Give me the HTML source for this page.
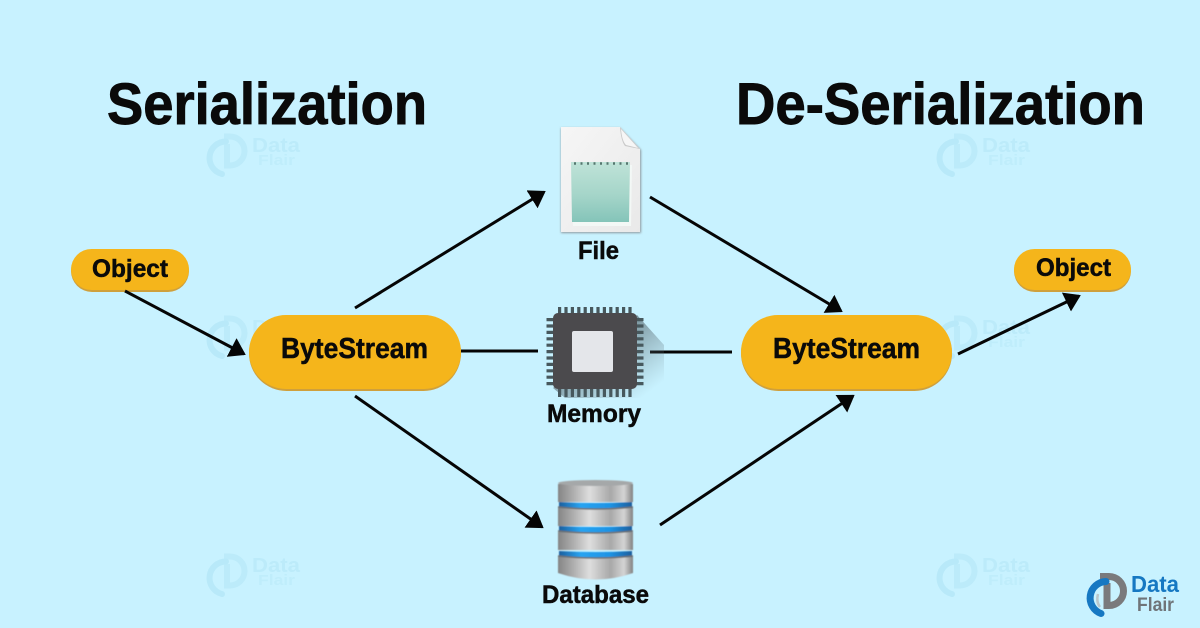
<!DOCTYPE html>
<html><head><meta charset="utf-8"><style>
html,body{margin:0;padding:0;background:#c8f2ff}
svg{display:block}
text{font-family:"Liberation Sans",sans-serif;font-weight:bold;fill:#0a0a0a}
.l{stroke:#0a0a0a;stroke-width:.5px}
.t{stroke:#0a0a0a;stroke-width:.9px}
</style></head><body>
<svg width="1200" height="628" viewBox="0 0 1200 628" xmlns="http://www.w3.org/2000/svg">
<defs>
<marker id="a" viewBox="0 0 16 21" refX="14" refY="10.500" markerWidth="16" markerHeight="21" markerUnits="userSpaceOnUse" orient="auto"><path d="M0 0L16 10.500L0 21Z" fill="#050505"/></marker>
<linearGradient id="page" x1="0" y1="0" x2="1" y2="1"><stop offset="0" stop-color="#f6f6f6"/><stop offset="1" stop-color="#e9e9e9"/></linearGradient>
<linearGradient id="note" x1="0" y1="0" x2="0" y2="1"><stop offset="0" stop-color="#bfe3d8"/><stop offset=".55" stop-color="#a5d5c9"/><stop offset="1" stop-color="#84c4b9"/></linearGradient>
<linearGradient id="metal" x1="0" y1="0" x2="1" y2="0"><stop offset="0" stop-color="#858585"/><stop offset=".2" stop-color="#adadad"/><stop offset=".42" stop-color="#dedede"/><stop offset=".7" stop-color="#a8a8a8"/><stop offset=".88" stop-color="#d4d4d4"/><stop offset="1" stop-color="#828282"/></linearGradient>
<linearGradient id="blue" x1="0" y1="0" x2="1" y2="0"><stop offset="0" stop-color="#1c5f9e"/><stop offset=".3" stop-color="#27a4f2"/><stop offset=".7" stop-color="#1e93e4"/><stop offset="1" stop-color="#1c5f9e"/></linearGradient>
<linearGradient id="shadow" x1="0" y1="0" x2="1" y2="1"><stop offset=".3" stop-color="#3d4a50" stop-opacity=".7"/><stop offset=".9" stop-color="#6a7f88" stop-opacity="0"/></linearGradient>
<filter id="blur" x="-10%" y="-10%" width="120%" height="120%"><feGaussianBlur stdDeviation="1"/></filter>
<filter id="soft" x="-10%" y="-10%" width="120%" height="120%"><feGaussianBlur stdDeviation=".5"/></filter>
<g id="wm">
<path d="M17 3.500H23A14.500 14.500 0 0 1 23 32.500H20V11" fill="none" stroke="#bcebfa" stroke-width="6"/>
<path d="M19 8.500A16.500 16.500 0 0 0 15 41" fill="none" stroke="#b8e9f9" stroke-width="6" stroke-linecap="round"/>
<text x="45" y="19" font-size="20" style="fill:#bcebfa" textLength="48" lengthAdjust="spacingAndGlyphs">Data</text>
<text x="51" y="32" font-size="15" style="fill:#bfedfb" textLength="37" lengthAdjust="spacingAndGlyphs">Flair</text>
</g>
</defs>
<rect width="1200" height="628" fill="#c8f2ff"/>

<use href="#wm" x="207" y="133"/><use href="#wm" x="937" y="133"/>
<use href="#wm" x="207" y="315"/><use href="#wm" x="937" y="315"/>
<use href="#wm" x="207" y="553"/><use href="#wm" x="937" y="553"/>

<text class="t" x="107" y="124" font-size="58" textLength="320" lengthAdjust="spacingAndGlyphs">Serialization</text>
<text class="t" x="736" y="124" font-size="58" textLength="409" lengthAdjust="spacingAndGlyphs">De-Serialization</text>

<!-- pills -->
<g fill="#f5b51b">
<rect x="71" y="250" width="118" height="42" rx="21" fill="#cfa03c"/>
<rect x="71" y="249" width="118" height="41" rx="20.500"/>
<rect x="249" y="316" width="212" height="75" rx="37.500" fill="#cfa03c"/>
<rect x="249" y="315" width="212" height="74" rx="37"/>
<rect x="741" y="316" width="211" height="75" rx="37.500" fill="#cfa03c"/>
<rect x="741" y="315" width="211" height="74" rx="37"/>
<rect x="1014" y="250" width="117" height="42" rx="21" fill="#cfa03c"/>
<rect x="1014" y="249" width="117" height="41" rx="20.500"/>
</g>
<text class="l" x="92" y="277" font-size="25" textLength="76" lengthAdjust="spacingAndGlyphs">Object</text>
<text class="l" x="1036" y="276" font-size="25" textLength="75" lengthAdjust="spacingAndGlyphs">Object</text>
<text class="l" x="281" y="358" font-size="29" textLength="147" lengthAdjust="spacingAndGlyphs">ByteStream</text>
<text class="l" x="773" y="358" font-size="29" textLength="147" lengthAdjust="spacingAndGlyphs">ByteStream</text>

<!-- connectors -->
<g stroke="#050505" stroke-width="3" fill="none">
<line x1="125" y1="291" x2="244" y2="354" marker-end="url(#a)"/>
<line x1="355" y1="308" x2="544" y2="192" marker-end="url(#a)"/>
<line x1="355" y1="396" x2="542" y2="527" marker-end="url(#a)"/>
<line x1="650" y1="197" x2="841" y2="311" marker-end="url(#a)"/>
<line x1="660" y1="525" x2="853" y2="396" marker-end="url(#a)"/>
<line x1="958" y1="354" x2="1079" y2="296" marker-end="url(#a)"/>
<line x1="461" y1="351" x2="538" y2="351"/>
<line x1="650" y1="352" x2="732" y2="352"/>
</g>

<!-- file -->
<path d="M561 128H620L641 150V233H561Z" fill="#8e9a9e" filter="url(#blur)"/>
<path d="M561 127H620L640 149V232H561Z" fill="url(#page)"/>
<path d="M620 127L640 149L625 146Q621 141 620 127Z" fill="#c9c9c9"/>
<path d="M621 129L638 148L626 145Q622 141 621 129Z" fill="#f6f6f6"/>
<path d="M572 165H632L631 226H573Z" fill="#f3f8f6"/>
<path d="M571 162H630L629 222H572Z" fill="url(#note)"/>
<line x1="574" y1="163.500" x2="628" y2="163.500" stroke="#55766e" stroke-width="2.500" stroke-dasharray="2 4.500"/>
<text class="l" x="578" y="259" font-size="25" textLength="41" lengthAdjust="spacingAndGlyphs">File</text>

<!-- chip -->
<path d="M637 315L664 345V380L652 398H565L553 388Z" fill="url(#shadow)"/>
<g stroke="#47585d" fill="none">
<line x1="558" y1="311" x2="632" y2="311" stroke-width="8" stroke-dasharray="3.200 3.200"/>
<line x1="558" y1="392.500" x2="632" y2="392.500" stroke-width="9" stroke-dasharray="3.200 3.200"/>
<line x1="550" y1="318" x2="550" y2="387" stroke-width="7" stroke-dasharray="3.200 3.200"/>
<line x1="640" y1="318" x2="640" y2="387" stroke-width="7" stroke-dasharray="3.200 3.200"/>
</g>
<rect x="553" y="313" width="84" height="76" rx="5" fill="#4b4a4d"/>
<rect x="572" y="331" width="41" height="41" rx="2" fill="#e4e6ea"/>
<text class="l" x="547" y="422" font-size="25" textLength="94" lengthAdjust="spacingAndGlyphs">Memory</text>

<!-- database -->
<g filter="url(#soft)">
<path d="M558 556H633V573Q596 586 558 573Z" fill="url(#metal)"/>
<rect x="558" y="484" width="75" height="18" fill="url(#metal)"/>
<rect x="558" y="507" width="75" height="19" fill="url(#metal)"/>
<rect x="558" y="532" width="75" height="18" fill="url(#metal)"/>
<path d="M559 502Q596 504 632 502V508Q596 510 559 508Z" fill="url(#blue)"/>
<path d="M559 526Q596 528 632 526V532Q596 534 559 532Z" fill="url(#blue)"/>
<path d="M559 551Q596 553 632 551V557Q596 559 559 557Z" fill="url(#blue)"/>
<path d="M558 507Q596 511 633 507M558 531Q596 535 633 531M558 556Q596 560 633 556" fill="none" stroke="#6c7072" stroke-width="1.500"/>
<ellipse cx="595.500" cy="483" rx="37.500" ry="3" fill="#a5a8a9"/>
</g>
<text class="l" x="542" y="603" font-size="25" textLength="107" lengthAdjust="spacingAndGlyphs">Database</text>

<!-- logo -->
<g transform="translate(1086 573)">
<path d="M14 3.500H23A14.500 14.500 0 0 1 23 32.500H21V10" fill="none" stroke="#7a7a7c" stroke-width="7"/>
<path d="M12 21Q10 29 14 34" fill="none" stroke="#b9c6ca" stroke-width="2.500"/>
<path d="M20 8.500A16.500 16.500 0 0 0 15 40.500" fill="none" stroke="#1678c2" stroke-width="7" stroke-linecap="round"/>
</g>
<text x="1131" y="592" font-size="23" style="fill:#1678c2" textLength="48" lengthAdjust="spacingAndGlyphs">Data</text>
<text x="1137" y="611" font-size="19" style="fill:#6f7478" textLength="37" lengthAdjust="spacingAndGlyphs">Flair</text>
</svg>
</body></html>
